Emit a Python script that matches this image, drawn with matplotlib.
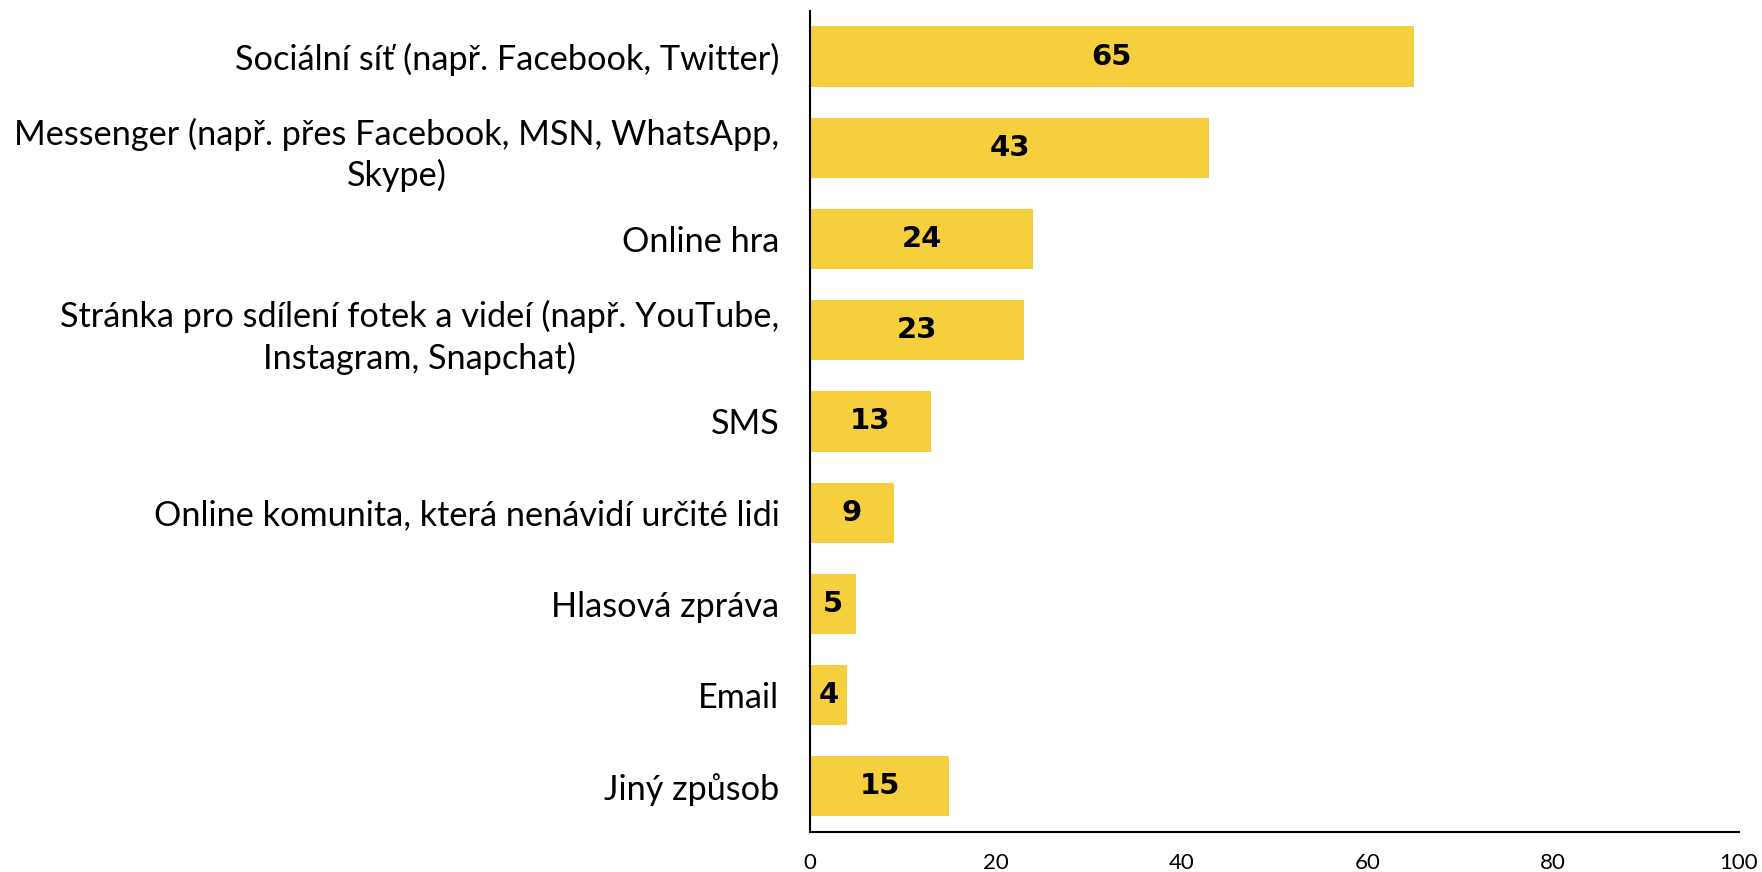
import matplotlib.pyplot as plt

categories = [
    "Sociální síť (např. Facebook, Twitter)",
    "Messenger (např. přes Facebook, MSN, WhatsApp,\nSkype)",
    "Online hra",
    "Stránka pro sdílení fotek a videí (např. YouTube,\nInstagram, Snapchat)",
    "SMS",
    "Online komunita, která nenávidí určité lidi",
    "Hlasová zpráva",
    "Email",
    "Jiný způsob",
]
values = [65, 43, 24, 23, 13, 9, 5, 4, 15]
xticks = [0, 20, 40, 60, 80, 100]

bar_color = "#F5CF3D"

fig = plt.figure(figsize=(17.62, 8.72), dpi=100)
ax = fig.add_axes([0.4597, 0.0459, 0.5272, 0.9415])

pos = list(range(len(categories)))
ax.barh(pos, values, height=0.66, color=bar_color)

for p, v in zip(pos, values):
    ax.text(v / 2, p, str(v), ha="center", va="center",
            fontsize=21, fontweight="bold", family="DejaVu Sans", color="black")

ax.set_ylim(len(categories) - 0.5, -0.5)
ax.set_xlim(0, 100)
ax.set_yticks(pos)
ax.set_yticklabels(categories, fontsize=24.7, family="Lato", fontweight="normal",
                   multialignment="center", linespacing=1.3)
ax.set_xticks(xticks)
ax.set_xticklabels([str(t) for t in xticks], fontsize=16, family="Lato")
ax.tick_params(axis="y", length=0, pad=22)
ax.tick_params(axis="x", length=0, pad=15)

for s in ["top", "right"]:
    ax.spines[s].set_visible(False)
ax.spines["left"].set_linewidth(1.5)
ax.spines["bottom"].set_linewidth(1.5)

fig.savefig("out.png", dpi=100)
